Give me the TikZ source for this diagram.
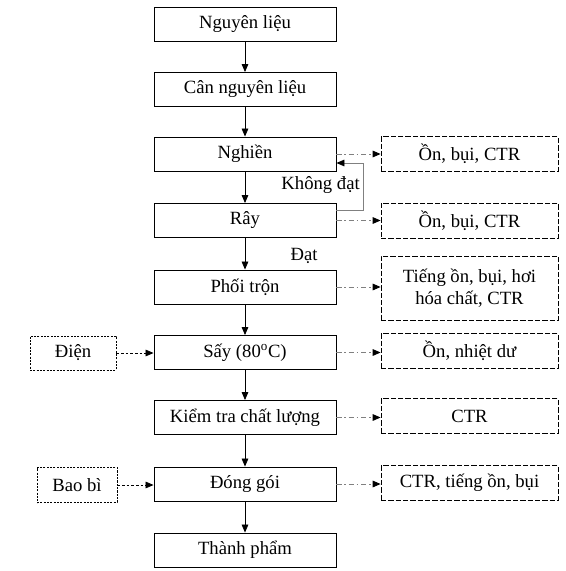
\documentclass[tikz,border=0pt]{standalone}
\usepackage{fontspec}
\setmainfont{Liberation Serif}
\usetikzlibrary{arrows.meta,calc}
\begin{document}
\begin{tikzpicture}[x=0.75pt,y=-0.75pt,
  font=\fontsize{14}{16.5}\selectfont,
  mainbox/.style={draw,line width=0.7pt,minimum width=136.5pt,minimum height=25.5pt,inner sep=0pt},
  wastebox/.style={draw,line width=0.6pt,dash pattern=on 4pt off 1.5pt,minimum width=132.75pt,minimum height=26.25pt,inner sep=0pt,align=center},
  inbox/.style={draw,line width=0.6pt,dash pattern=on 1.6pt off 0.9pt,minimum height=25.5pt,inner sep=0pt},
  flow/.style={line width=0.6pt,-{Triangle[length=6pt,width=5pt]}},
  waste/.style={line width=0.7pt,draw=gray,dash pattern=on 4pt off 2pt on 1.2pt off 2pt,-{Triangle[length=6pt,width=5pt,color=black]}},
  input/.style={line width=0.6pt,dash pattern=on 2pt off 1.5pt,-{Triangle[length=6pt,width=5pt]}},
  fb/.style={line width=0.7pt,draw=gray,-{Triangle[length=6pt,width=5pt,color=black]}}
]
\useasboundingbox (0,0) rectangle (566,571);
% main chain
\node[mainbox] (n1) at (245,24.5) {Nguyên liệu};
\node[mainbox] (n2) at (245,89.5) {Cân nguyên liệu};
\node[mainbox] (n3) at (245,154) {Nghiền};
\node[mainbox] (n4) at (245,220.5) {Rây};
\node[mainbox] (n5) at (245,287) {Phối trộn};
\node[mainbox] (n6) at (245,352.5) {Sấy (80\textsuperscript{o}C)};
\node[mainbox] (n7) at (245,417.5) {Kiểm tra chất lượng};
\node[mainbox] (n8) at (245,484) {Đóng gói};
\node[mainbox] (n9) at (245,550) {Thành phẩm};
% waste boxes
\node[wastebox] (r3) at (469.5,154) {Ồn, bụi, CTR};
\node[wastebox] (r4) at (469.5,220.5) {Ồn, bụi, CTR};
\node[wastebox,minimum height=48pt] (r5) at (469.5,288) {Tiếng ồn, bụi, hơi\\hóa chất, CTR};
\node[wastebox] (r6) at (469.5,351) {Ồn, nhiệt dư};
\node[wastebox] (r7) at (469.5,416) {CTR};
\node[wastebox] (r8) at (469.5,483) {CTR, tiếng ồn, bụi};
% inputs
\node[inbox,minimum width=64.5pt] (dien) at (73,353) {Điện};
\node[inbox,minimum width=60pt,minimum height=26.25pt] (baobi) at (77,485) {Bao bì};
% flow arrows
\draw[flow] (n1) -- (n2);
\draw[flow] (n2) -- (n3);
\draw[flow] (n3) -- (n4);
\draw[flow] (n4) -- (n5);
\draw[flow] (n5) -- (n6);
\draw[flow] (n6) -- (n7);
\draw[flow] (n7) -- (n8);
\draw[flow] (n8) -- (n9);
% waste arrows
\draw[waste] (n3.east) -- (r3.west);
\draw[waste] (n4.east) -- (r4.west);
\draw[waste] (n5.east) -- (n5.east -| r5.west);
\draw[waste] (n6.east) -- (n6.east -| r6.west);
\draw[waste] (n7.east) -- (n7.east -| r7.west);
\draw[waste] (n8.east) -- (n8.east -| r8.west);
% inputs
\draw[input] (dien.east) -- (dien.east -| n6.west);
\draw[input] (baobi.east) -- (baobi.east -| n8.west);
% feedback
\coordinate (fbs) at ([yshift=7.9pt]n4.east);
\coordinate (fbe) at ([yshift=-6.75pt]n3.east);
\draw[fb] (fbs) -- ++(27,0) |- (fbe);
\node[anchor=east,inner sep=0pt] (kd) at (360,185) {Không đạt};
\node[inner sep=0pt] (dat) at (304,256) {Đạt};
\end{tikzpicture}
\end{document}
